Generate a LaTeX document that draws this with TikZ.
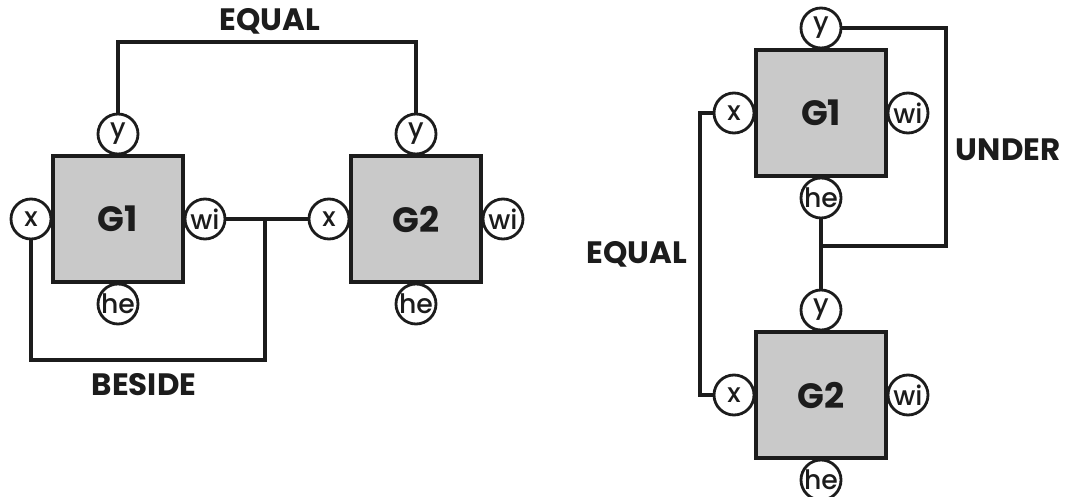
\documentclass[tikz,border=0pt]{standalone}
\usepackage{fontspec}
\setmainfont{Poppins}
\newfontfamily\portafonte{Poppins Medium}
\usepackage{tikz}
\usetikzlibrary{positioning}
\usepackage{xcolor}

\definecolor{tinta}{HTML}{1C1C1C}
\definecolor{pontos}{HTML}{C9C9C9}

\tikzset{
    caixa/.style={draw=tinta, line width=2.8pt, fill=pontos, minimum width=3.25cm,
        minimum height=3.15cm, inner sep=0pt, font=\fontsize{25}{27}\selectfont\bfseries, text=tinta},
    porta/.style={circle, draw=tinta, line width=2pt, fill=white, minimum size=1cm,
        inner sep=0pt, font=\portafonte\fontsize{19}{21}\selectfont, text=tinta},
    liga/.style={draw=tinta, line width=2.2pt},
    rotulo/.style={font=\fontsize{22}{25}\selectfont\bfseries, text=tinta}
}

\begin{document}
\begin{tikzpicture}[x=0.025cm, y=-0.025cm]
    \useasboundingbox (0,0) rectangle (1065,497);

    % Caixas (BESIDE)
    \node[caixa] (lg1) at (118,219) {G1};
    \node[caixa] (lg2) at (416,219) {G2};

    % Caixas (UNDER)
    \node[caixa] (rg1) at (821,113) {G1};
    \node[caixa] (rg2) at (821,395) {G2};

    % Portas
    \foreach \g in {lg1,lg2,rg1,rg2} {
        \node[porta, above=-1pt of \g] (\g y) {y};
        \node[porta, left=-1pt of \g] (\g x) {x};
        \node[porta, right=-1pt of \g] (\g wi) {wi};
        \node[porta, below=-1pt of \g] (\g he) {he};
    }

    % Pontos de quebra
    \coordinate (eqtopo) at (270,42);
    \coordinate (besbase) at (265,360);
    \coordinate (undcanto) at (946,246);
    \coordinate (eqesq) at (700,260);

    % Ligações
    \draw[liga] (lg1y) |- (eqtopo) -| (lg2y);
    \draw[liga] (lg1wi) -- (lg2x);
    \draw[liga] (lg1x) |- (besbase) -- (besbase |- lg2x.west);
    \draw[liga] (rg1he) -- (rg2y);
    \draw[liga] (rg1y) -| (undcanto) -- (undcanto -| rg1he);
    \draw[liga] (rg1x) -| (eqesq) |- (rg2x);

    % Rótulos
    \node[rotulo] (eqa) at (270,21) {EQUAL};
    \node[rotulo] (bes) at (144,385) {BESIDE};
    \node[rotulo, anchor=west] (und) at (951,150) {UNDER};
    \node[rotulo, anchor=east] (eqb) at (692,254) {EQUAL};
\end{tikzpicture}
\end{document}
